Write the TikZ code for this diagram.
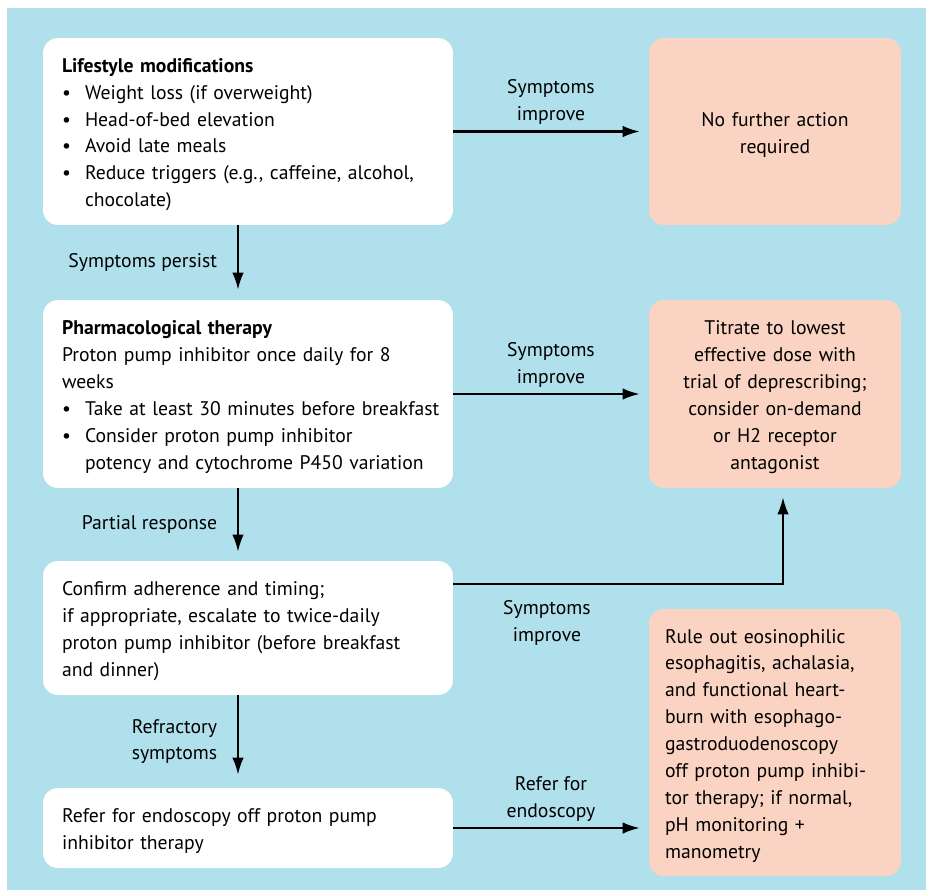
\documentclass[tikz,border=0pt]{standalone}
\usepackage{fontspec}
\setmainfont{PT Sans}
\usetikzlibrary{arrows.meta,positioning}
\definecolor{bgblue}{RGB}{176,224,236}
\definecolor{salmon}{RGB}{251,211,194}
\newcommand{\itm}{\makebox[0.46cm][l]{\textbullet}}
\newcommand{\cnt}{\hspace*{0.46cm}}

\begin{document}
\begin{tikzpicture}[x=0.02cm,y=-0.02cm,
  font=\fontsize{11.2}{15.3}\selectfont,
  stepbox/.style={fill=white, rounded corners=0.3cm, minimum width=8.2cm,
                  text width=7.44cm, inner xsep=0.38cm, align=left,
                  execute at begin node=\rule{0pt}{11.5pt}},
  endbox/.style={fill=salmon, rounded corners=0.3cm, minimum width=5.04cm,
                 text width=4.28cm, inner xsep=0.38cm, align=center,
                 execute at begin node=\rule{0pt}{11.5pt}},
  arr/.style={-{Latex[length=0.34cm,width=0.23cm]}, line width=1.2pt},
  lbl/.style={align=center}]
  % Background
  \useasboundingbox (0,0) rectangle (926,890);
  \fill[bgblue] (7,8) rectangle (926,890);

  % Left column
  \node[stepbox, minimum height=3.74cm] (life) at (248,131.5)
    {\textbf{Lifestyle modifications}\\
     \itm Weight loss (if overweight)\\
     \itm Head-of-bed elevation\\
     \itm Avoid late meals\\
     \itm Reduce triggers (e.g., caffeine, alcohol,\\
     \cnt chocolate)};
  \node[stepbox, minimum height=3.76cm] (pharm) at (248,394)
    {\textbf{Pharmacological therapy}\\
     Proton pump inhibitor once daily for 8\\
     weeks\\
     \itm \mbox{Take at least 30 minutes before breakfast}\\
     \itm Consider proton pump inhibitor\\
     \cnt \mbox{potency and cytochrome P450 variation}};
  \node[stepbox, minimum height=2.68cm] (confirm) at (248,628)
    {Confirm adherence and timing;\\
     if appropriate, escalate to twice-daily\\
     proton pump inhibitor (before breakfast\\
     and dinner)};
  \node[stepbox, minimum height=1.6cm] (refer) at (248,828)
    {Refer for endoscopy off proton pump\\
     inhibitor therapy};

  % Right column
  \node[endbox, minimum height=3.74cm] (noaction) at (775,131.5)
    {No further action\\ required};
  \node[endbox, minimum height=3.76cm] (titrate) at (775,394)
    {Titrate to lowest\\ effective dose with\\ trial of deprescribing;\\
     consider on-demand\\ or H2 receptor\\ antagonist};
  \node[endbox, align=left, minimum height=5.34cm, text width=4.4cm,
        inner xsep=0.32cm] (ruleout) at (775,742.5)
    {Rule out eosinophilic\\ esophagitis, achalasia,\\ and functional heart-\\
     burn with esophago-\\ gastroduodenoscopy\\ off proton pump inhibi-\\
     tor therapy; if normal,\\ pH monitoring +\\ manometry};

  % Connectors
  \draw[arr, shorten >=0.18cm] (life) -- (noaction)
    node[lbl, midway, above] {Symptoms\\ improve};
  \draw[arr, shorten >=0.2cm] ([xshift=-0.2cm]life.south) -- ([xshift=-0.2cm]pharm.north)
    node[midway, left=0.28cm] {Symptoms persist};
  \draw[arr, shorten >=0.18cm] (pharm) -- (titrate)
    node[lbl, midway, above] {Symptoms\\ improve};
  \draw[arr, shorten >=0.18cm] ([xshift=-0.2cm]pharm.south) -- ([xshift=-0.2cm]confirm.north)
    node[midway, left=0.28cm] {Partial response};
  \draw[arr, shorten >=0.18cm] ([yshift=0.88cm]confirm.east) -| ([xshift=0.16cm]titrate.south)
    node[lbl, pos=0.142, below=0.2cm] {Symptoms\\ improve};
  \draw[arr, shorten >=0.26cm] ([xshift=-0.2cm]confirm.south) -- ([xshift=-0.2cm]refer.north)
    node[align=right, midway, left=0.28cm] {Refractory\\ symptoms};
  \draw[arr, shorten >=0.18cm] (refer.east) -- (refer.east -| ruleout.west)
    node[lbl, midway, above] {Refer for\\ endoscopy};
\end{tikzpicture}
\end{document}
